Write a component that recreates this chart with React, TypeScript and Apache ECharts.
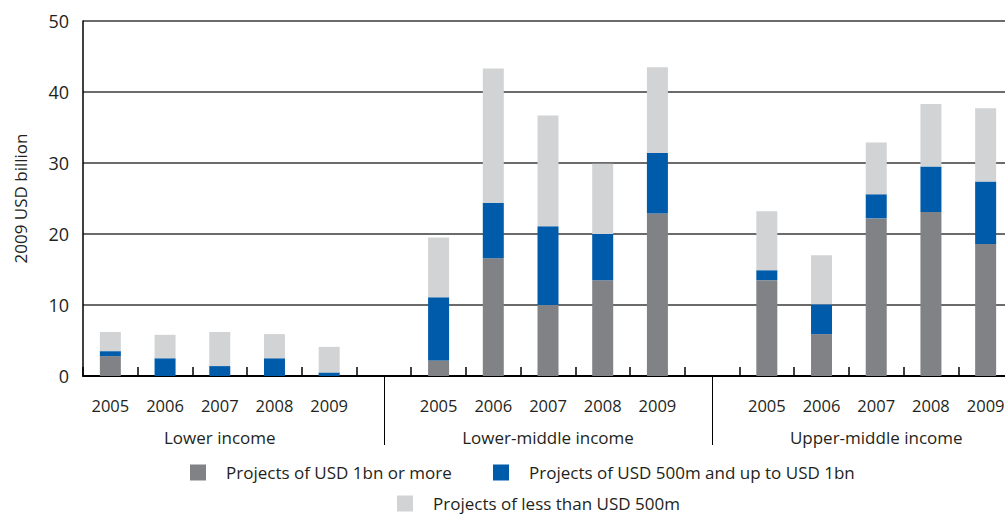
import React, { useEffect, useRef } from 'react';
import * as echarts from 'echarts';

const groups = ['Lower income', 'Lower-middle income', 'Upper-middle income'];
const years = ['2005', '2006', '2007', '2008', '2009'];
const seriesNames = [
  'Projects of USD 1bn or more',
  'Projects of USD 500m and up to USD 1bn',
  'Projects of less than USD 500m',
];
const yTicks = [0, 10, 20, 30, 40, 50];

// values in 2009 USD billion, per year 2005..2009
const lowerIncomeLarge = [2.8, 0, 0, 0, 0];
const lowerIncomeMid = [0.7, 2.5, 1.4, 2.5, 0.5];
const lowerIncomeSmall = [2.7, 3.3, 4.8, 3.4, 3.6];
const lowerMiddleLarge = [2.2, 16.6, 10.0, 13.5, 22.9];
const lowerMiddleMid = [8.9, 7.8, 11.1, 6.5, 8.5];
const lowerMiddleSmall = [8.4, 18.9, 15.6, 9.9, 12.1];
const upperMiddleLarge = [13.5, 5.9, 22.2, 23.1, 18.6];
const upperMiddleMid = [1.4, 4.2, 3.4, 6.4, 8.8];
const upperMiddleSmall = [8.3, 6.9, 7.3, 8.8, 10.3];

const colors = ['#808285', '#005BAA', '#D1D3D4'];
const FONT = '"Open Sans", sans-serif';
const TEXT = '#231f20';

export default function App() {
  const ref = useRef<HTMLDivElement>(null);
  useEffect(() => {
    if (!ref.current) return;
    const chart = echarts.init(ref.current, null, { renderer: 'svg' });

    const perGroup = [
      [lowerIncomeLarge, lowerIncomeMid, lowerIncomeSmall],
      [lowerMiddleLarge, lowerMiddleMid, lowerMiddleSmall],
      [upperMiddleLarge, upperMiddleMid, upperMiddleSmall],
    ];
    const categories: string[] = [];
    const gapIdx: number[] = [];
    const centerIdx: Record<number, string> = {};
    const seriesData: (number | null)[][] = [[], [], []];
    groups.forEach((g, gi) => {
      if (gi > 0) {
        gapIdx.push(categories.length);
        categories.push('gap' + gi);
        seriesData.forEach((s) => s.push(null));
      }
      years.forEach((y, yi) => {
        if (yi === 2) centerIdx[categories.length] = g;
        categories.push(g + '|' + y);
        for (let k = 0; k < 3; k++) seriesData[k].push(perGroup[gi][k][yi]);
      });
    });

    chart.setOption({
      animation: false,
      grid: { left: 83, top: 21, right: 27, bottom: 139 },
      xAxis: [
        {
          type: 'category',
          data: categories,
          position: 'bottom',
          axisLine: { show: true, lineStyle: { color: '#000', width: 2 } },
          axisTick: { show: true, inside: true, length: 9, interval: 0, lineStyle: { color: '#000', width: 1.5 } },
          axisLabel: {
            interval: 0,
            margin: 21,
            fontFamily: FONT,
            fontSize: 16.5,
            color: TEXT,
            formatter: (v: string) => (v.indexOf('|') >= 0 ? v.split('|')[1] : ''),
          },
          splitLine: { show: false },
        },
        {
          type: 'category',
          data: categories,
          position: 'bottom',
          axisLine: { show: false },
          axisTick: {
            show: true,
            alignWithLabel: true,
            length: 69,
            interval: (i: number) => gapIdx.indexOf(i) >= 0,
            lineStyle: { color: '#000', width: 1 },
          },
          axisLabel: {
            interval: (i: number) => centerIdx[i] !== undefined,
            margin: 53,
            fontFamily: FONT,
            fontSize: 17,
            color: TEXT,
            formatter: (v: string) => (v.indexOf('|') >= 0 ? v.split('|')[0] : ''),
          },
          splitLine: { show: false },
        },
      ],
      yAxis: {
        type: 'value',
        min: yTicks[0],
        max: yTicks[yTicks.length - 1],
        interval: 10,
        name: '2009 USD billion',
        nameLocation: 'middle',
        nameGap: 54,
        nameRotate: 90,
        nameTextStyle: { fontFamily: FONT, fontSize: 17, color: TEXT },
        axisLine: { show: true, lineStyle: { color: '#000', width: 1.5 } },
        axisTick: { show: false },
        axisLabel: { margin: 14, fontFamily: FONT, fontSize: 18, color: TEXT },
        splitLine: { show: true, lineStyle: { color: '#3a3a3a', width: 1.5 } },
      },
      legend: [
        { data: [seriesNames[0]], left: 190, top: 464 },
        { data: [seriesNames[1]], left: 493, top: 464 },
        { data: [seriesNames[2]], left: 397, top: 495 },
      ].map((l) => ({
        ...l,
        orient: 'horizontal',
        itemWidth: 16,
        itemHeight: 16,
        icon: 'rect',
        padding: 0,
        selectedMode: false,
        textStyle: { fontFamily: FONT, fontSize: 17, lineHeight: 16, color: TEXT, padding: [0, 0, 0, 15] },
      })),
      series: seriesNames.map((name, k) => ({
        name,
        type: 'bar',
        stack: 'total',
        barWidth: 21,
        itemStyle: { color: colors[k] },
        data: seriesData[k],
      })),
    });
    return () => chart.dispose();
  }, []);

  return (
    <div style={{ position: 'fixed', left: 0, top: 0, width: 1005, height: 515, overflow: 'hidden', background: '#fff' }}>
      <div ref={ref} style={{ width: 1040, height: 515 }} />
    </div>
  );
}
